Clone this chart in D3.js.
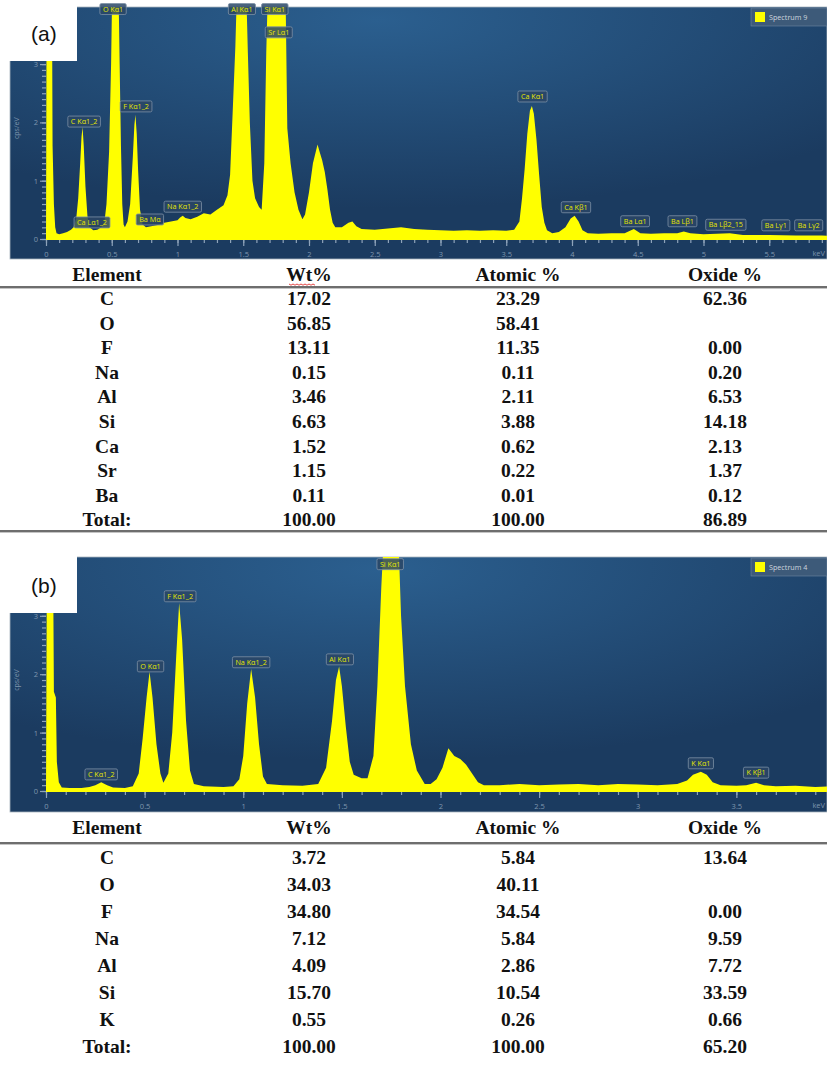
<!DOCTYPE html>
<html>
<head>
<meta charset="utf-8">
<script src="https://cdn.jsdelivr.net/npm/d3@7"></script>
<style>
  body { margin: 0; background: #fff; }
  svg { display: block; }
</style>
</head>
<body>
<div class="container"></div>
<script>
// ---- spectrum (a): [keV, cps/eV]
var specA = [
  [0,0],[0.005,4.5],[0.045,4.5],[0.05,1.6],[0.06,0.6],[0.07,0.2],[0.08,0.1],[0.1,0.08],[0.13,0.1],[0.16,0.12],
  [0.19,0.16],[0.21,0.2],[0.23,0.35],[0.245,0.7],[0.26,1.3],[0.27,1.75],[0.278,1.92],[0.287,1.6],[0.3,0.9],[0.315,0.4],
  [0.33,0.2],[0.36,0.15],[0.39,0.16],[0.42,0.2],[0.445,0.3],[0.46,0.6],[0.48,1.5],[0.495,3],[0.505,4.5],[0.55,4.5],
  [0.56,3],[0.57,1.6],[0.58,0.6],[0.59,0.25],[0.6,0.2],[0.62,0.3],[0.64,0.6],[0.66,1.4],[0.672,1.95],[0.68,2.13],
  [0.69,1.8],[0.70,1.2],[0.715,0.5],[0.735,0.25],[0.76,0.2],[0.8,0.22],[0.85,0.24],[0.9,0.28],[0.95,0.3],[1.0,0.32],
  [1.02,0.37],[1.04,0.4],[1.06,0.36],[1.1,0.34],[1.15,0.38],[1.2,0.44],[1.25,0.42],[1.3,0.5],[1.35,0.58],[1.38,0.75],
  [1.4,1.1],[1.42,2.2],[1.44,3.3],[1.455,4.5],[1.52,4.5],[1.535,3.2],[1.55,2.0],[1.57,1.0],[1.59,0.7],[1.62,0.55],
  [1.64,0.5],[1.66,1.3],[1.675,3.2],[1.69,4.5],[1.82,4.5],[1.835,1.9],[1.86,1.3],[1.89,0.8],[1.92,0.5],[1.95,0.34],
  [1.97,0.42],[2.0,0.8],[2.03,1.3],[2.065,1.62],[2.08,1.5],[2.1,1.35],[2.12,1.15],[2.14,0.85],[2.16,0.5],[2.18,0.28],
  [2.2,0.2],[2.25,0.2],[2.3,0.28],[2.33,0.3],[2.36,0.22],[2.4,0.17],[2.5,0.16],[2.6,0.18],[2.7,0.2],[2.8,0.17],
  [2.9,0.16],[3.0,0.15],[3.1,0.14],[3.2,0.15],[3.3,0.14],[3.4,0.15],[3.5,0.14],[3.56,0.16],[3.6,0.3],[3.62,0.7],
  [3.64,1.2],[3.66,1.8],[3.68,2.2],[3.695,2.28],[3.71,2.15],[3.73,1.7],[3.75,1.1],[3.77,0.55],[3.79,0.28],[3.81,0.15],
  [3.85,0.1],[3.9,0.12],[3.95,0.2],[3.99,0.35],[4.02,0.4],[4.05,0.3],[4.08,0.15],[4.12,0.1],[4.2,0.09],[4.3,0.1],
  [4.4,0.1],[4.47,0.17],[4.52,0.1],[4.6,0.09],[4.7,0.1],[4.8,0.1],[4.85,0.13],[4.9,0.1],[5.0,0.08],[5.1,0.09],
  [5.2,0.1],[5.3,0.07],[5.5,0.07],[5.7,0.06],[5.9,0.06],[6.0,0.05]
];
// ---- spectrum (b)
var specB = [
  [0,0],[0.005,4.5],[0.035,4.5],[0.04,1.7],[0.05,1.6],[0.055,0.5],[0.065,0.15],[0.08,0.06],[0.12,0.05],[0.18,0.05],
  [0.22,0.07],[0.25,0.1],[0.28,0.15],[0.31,0.1],[0.34,0.06],[0.4,0.05],[0.44,0.08],[0.47,0.3],[0.49,0.9],[0.51,1.6],
  [0.525,2.04],[0.54,1.6],[0.56,0.8],[0.58,0.3],[0.595,0.14],[0.62,0.3],[0.64,1.0],[0.66,2.3],[0.675,3.22],[0.69,2.6],
  [0.71,1.2],[0.73,0.35],[0.75,0.12],[0.8,0.08],[0.9,0.07],[0.95,0.08],[0.98,0.2],[1.0,0.6],[1.02,1.5],[1.04,2.09],
  [1.06,1.6],[1.08,0.8],[1.1,0.25],[1.12,0.12],[1.2,0.1],[1.3,0.09],[1.38,0.12],[1.42,0.4],[1.45,1.2],[1.47,1.9],
  [1.486,2.13],[1.5,1.8],[1.52,1.1],[1.54,0.5],[1.56,0.28],[1.6,0.22],[1.63,0.22],[1.66,0.6],[1.68,1.8],[1.7,3.5],
  [1.715,4.5],[1.785,4.5],[1.8,3.0],[1.82,1.8],[1.85,0.8],[1.88,0.35],[1.92,0.12],[1.95,0.12],[1.98,0.2],[2.01,0.4],
  [2.04,0.73],[2.07,0.6],[2.1,0.55],[2.13,0.45],[2.16,0.3],[2.19,0.15],[2.22,0.1],[2.3,0.1],[2.4,0.12],[2.5,0.1],
  [2.6,0.11],[2.7,0.12],[2.8,0.1],[2.9,0.12],[3.0,0.11],[3.1,0.1],[3.2,0.12],[3.25,0.18],[3.28,0.28],[3.32,0.33],
  [3.35,0.28],[3.38,0.15],[3.42,0.1],[3.5,0.09],[3.55,0.1],[3.6,0.14],[3.64,0.1],[3.7,0.08],[3.8,0.09],[3.9,0.07],[4.0,0.08]
];

// peak labels: name, keV of box centre, cps level of box bottom
var labelsA = ["C K\u03b11_2","Ca L\u03b11_2","O K\u03b11","F K\u03b11_2","Ba M\u03b1","Na K\u03b11_2","Al K\u03b11","Si K\u03b11","Sr L\u03b11","Ca K\u03b11","Ca K\u03b21","Ba L\u03b11","Ba L\u03b21","Ba L\u03b22_15","Ba L\u03b31","Ba L\u03b32"];
var labelsAkeV = [0.29,0.35,0.51,0.685,0.79,1.04,1.49,1.74,1.77,3.7,4.03,4.48,4.84,5.17,5.55,5.8];
var labelsAcps = [1.92,0.19,3.85,2.18,0.24,0.46,3.85,3.85,3.45,2.35,0.45,0.21,0.21,0.15,0.14,0.14];
var labelsB = ["C K\u03b11_2","O K\u03b11","F K\u03b11_2","Na K\u03b11_2","Al K\u03b11","Si K\u03b11","K K\u03b11","K K\u03b21"];
var labelsBkeV = [0.28,0.53,0.68,1.04,1.49,1.745,3.32,3.6];
var labelsBcps = [0.19,2.04,3.24,2.11,2.16,3.79,0.38,0.22];

// tables
var tableHeader = ["Element","Wt%","Atomic %","Oxide %"];
var elementsA = ["C","O","F","Na","Al","Si","Ca","Sr","Ba","Total:"];
var wtA = [17.02,56.85,13.11,0.15,3.46,6.63,1.52,1.15,0.11,100.00];
var atomicA = [23.29,58.41,11.35,0.11,2.11,3.88,0.62,0.22,0.01,100.00];
var oxideA = [62.36,null,0.00,0.20,6.53,14.18,2.13,1.37,0.12,86.89];
var elementsB = ["C","O","F","Na","Al","Si","K","Total:"];
var wtB = [3.72,34.03,34.80,7.12,4.09,15.70,0.55,100.00];
var atomicB = [5.84,40.11,34.54,5.84,2.86,10.54,0.26,100.00];
var oxideB = [13.64,null,0.00,9.59,7.72,33.59,0.66,65.20];

var width = 827, height = 1085;
var svg = d3.select(".container").append("svg")
  .attr("width", width).attr("height", height);

var defs = svg.append("defs");
var grad = defs.append("radialGradient").attr("id", "bg")
  .attr("cx", "45%").attr("cy", "5%").attr("r", "75%");
grad.append("stop").attr("offset", "0%").attr("stop-color", "#2b5f8f");
grad.append("stop").attr("offset", "100%").attr("stop-color", "#1b3b60");

var fmt = d3.format(".2f");

function drawSpectrum(opt, idx) {
  var g = svg.append("g");
  // dark panel
  g.append("rect")
    .attr("x", 10).attr("y", opt.top)
    .attr("width", width - 10).attr("height", opt.bottom - opt.top)
    .attr("fill", "url(#bg)")
    .attr("stroke", "#a9b4bf").attr("stroke-width", 0.8);

  var x = d3.scaleLinear().domain([0, opt.keVmax]).range([46, 835]);
  var y = d3.scaleLinear().domain([0, 4]).range([opt.base, opt.base - 4 * opt.unit]);

  defs.append("clipPath").attr("id", "clip" + idx)
    .append("rect").attr("x", 46).attr("y", opt.top)
    .attr("width", width - 46).attr("height", opt.base - opt.top + 1);

  var area = d3.area()
    .x(function (d) { return x(d[0]); })
    .y0(opt.base + 1)
    .y1(function (d) { return y(d[1]); });

  g.append("path")
    .datum(opt.spectrum)
    .attr("clip-path", "url(#clip" + idx + ")")
    .attr("fill", "#ffff00")
    .attr("d", area);

  // x axis: major every 0.5, minor every 0.1 (last major sits past the edge)
  var xMajor = d3.range(0, opt.keVmax - 0.01, 0.5);
  var xMinor = d3.range(0, opt.keVmax - 0.01, 0.1);
  var xa = g.append("g").attr("transform", "translate(0," + (opt.base + 1) + ")");
  xa.call(d3.axisBottom(x).tickValues(xMinor).tickSize(3).tickFormat(""));
  var xb = g.append("g").attr("transform", "translate(0," + (opt.base + 1) + ")");
  xb.call(d3.axisBottom(x).tickValues(xMajor).tickSize(6).tickPadding(6)
    .tickFormat(function (d) { return d3.format("~g")(d); }));
  [xa, xb].forEach(function (a) {
    a.select(".domain").remove();
    a.selectAll("line").attr("stroke", "#8ea3ba").attr("stroke-width", 1.2);
    a.selectAll("text").attr("fill", "#7f96ae").attr("font-size", 7.5)
      .attr("font-family", "Open Sans, sans-serif");
  });
  g.append("text").attr("x", 825).attr("y", opt.base + 17)
    .attr("text-anchor", "end")
    .attr("fill", "#7f96ae").attr("font-size", 7.5)
    .attr("font-family", "Open Sans, sans-serif").text("keV");

  // y axis
  var ya = g.append("g").attr("transform", "translate(46,0)");
  ya.call(d3.axisLeft(y).tickValues(d3.range(0, 3.95, 0.1)).tickSize(4).tickFormat(""));
  var yb = g.append("g").attr("transform", "translate(46,0)");
  yb.call(d3.axisLeft(y).tickValues([0, 1, 2, 3]).tickSize(6).tickPadding(2).tickFormat(d3.format("d")));
  [ya, yb].forEach(function (a) {
    a.select(".domain").remove();
    a.selectAll("line").attr("stroke", "#8ea3ba").attr("stroke-width", 1.2);
    a.selectAll("text").attr("fill", "#7f96ae").attr("font-size", 7.5)
      .attr("font-family", "Open Sans, sans-serif");
  });
  g.append("text")
    .attr("transform", "translate(19," + y(1.9) + ") rotate(-90)")
    .attr("text-anchor", "middle")
    .attr("fill", "#7f96ae").attr("font-size", 7)
    .attr("font-family", "Open Sans, sans-serif").text("cps/eV");

  // peak labels
  var lab = g.selectAll(".lab")
    .data(opt.labels.map(function (n, i) { return [n, opt.labelKeV[i], opt.labelCps[i]]; }))
    .enter().append("g").attr("class", "lab");
  lab.each(function (d) {
    var gg = d3.select(this);
    var t = gg.append("text")
      .attr("x", x(d[1])).attr("y", y(d[2]) - 3)
      .attr("text-anchor", "middle")
      .attr("fill", "#e6e600").attr("font-size", 7.2)
      .attr("font-family", "Open Sans, sans-serif")
      .text(d[0]);
    var w = t.node().getComputedTextLength() + 6;
    gg.insert("rect", "text")
      .attr("x", x(d[1]) - w / 2).attr("y", y(d[2]) - 11)
      .attr("width", w).attr("height", 11).attr("rx", 1.5)
      .attr("fill", "#2a4766").attr("fill-opacity", 0.85)
      .attr("stroke", "#7d91a6").attr("stroke-width", 0.8);
  });

  // legend
  var lg = g.append("g");
  lg.append("rect").attr("x", 751).attr("y", opt.top + 1)
    .attr("width", width - 751).attr("height", 18)
    .attr("fill", "#3d5a79").attr("stroke", "#6f86a0").attr("stroke-width", 0.6);
  lg.append("rect").attr("x", 755).attr("y", opt.top + 5)
    .attr("width", 10).attr("height", 10).attr("fill", "#ffff00");
  lg.append("text").attr("x", 769).attr("y", opt.top + 13)
    .attr("fill", "#cdd5de").attr("font-size", 7.2)
    .attr("font-family", "Open Sans, sans-serif").text(opt.legend);

  // panel tag
  svg.append("rect").attr("x", 0).attr("y", 0 + (idx ? opt.top - 2 : 0))
    .attr("width", 77).attr("height", opt.tagBottom - (idx ? opt.top - 2 : 0))
    .attr("fill", "#fff");
  svg.append("text").attr("x", 31).attr("y", opt.tagY)
    .attr("font-family", "Liberation Sans, Arial, sans-serif")
    .attr("font-size", 21).attr("fill", "#111").text(opt.tag);
}

function drawTable(opt) {
  var g = svg.append("g")
    .attr("font-family", "Liberation Serif, Times New Roman, serif")
    .attr("font-weight", "bold").attr("font-size", 19.5).attr("fill", "#111")
    .attr("text-anchor", "middle");
  var colX = [107, 309, 518, 725];
  g.selectAll(".hd").data(tableHeader).enter().append("text")
    .attr("x", function (d, i) { return colX[i]; })
    .attr("y", opt.headY).text(function (d) { return d; });

  g.append("rect").attr("x", 0).attr("y", opt.lineY).attr("width", width).attr("height", 2)
    .attr("fill", "#6e6e6e");
  g.append("rect").attr("x", 0).attr("y", opt.lineY + 2).attr("width", width).attr("height", 1)
    .attr("fill", "#c4c4c4");

  var rows = opt.elements.map(function (e, i) {
    return [e, opt.wt[i], opt.atomic[i], opt.oxide[i]];
  });
  var r = g.selectAll(".row").data(rows).enter().append("g")
    .attr("transform", function (d, i) { return "translate(0," + (opt.rowY + i * opt.rowStep) + ")"; });
  r.selectAll("text").data(function (d) { return d; }).enter().append("text")
    .attr("x", function (d, i) { return colX[i]; })
    .text(function (d, i) { return i === 0 ? d : (d === null ? "" : fmt(d)); });

  if (opt.bottomLine) {
    g.append("rect").attr("x", 0).attr("y", opt.bottomLine).attr("width", width).attr("height", 2)
      .attr("fill", "#6e6e6e");
    g.append("rect").attr("x", 0).attr("y", opt.bottomLine + 2).attr("width", width).attr("height", 1)
      .attr("fill", "#c4c4c4");
  }
  if (opt.squiggle) {
    var pts = d3.range(0, 14).map(function (i) { return [289 + i * 2, opt.headY + 3 + (i % 2 ? 1.2 : 0)]; });
    svg.append("path").attr("d", d3.line()(pts))
      .attr("fill", "none").attr("stroke", "#e03030").attr("stroke-width", 0.9);
  }
}

drawSpectrum({
  top: 7, bottom: 259, base: 239, unit: 58.3, keVmax: 6,
  spectrum: specA, labels: labelsA, labelKeV: labelsAkeV, labelCps: labelsAcps,
  legend: "Spectrum 9", tag: "(a)", tagBottom: 61, tagY: 41
}, 0);
drawTable({
  headY: 281, lineY: 286, rowY: 305, rowStep: 24.6, bottomLine: 530,
  elements: elementsA, wt: wtA, atomic: atomicA, oxide: oxideA, squiggle: true
});

drawSpectrum({
  top: 557, bottom: 812, base: 791, unit: 58.4, keVmax: 4,
  spectrum: specB, labels: labelsB, labelKeV: labelsBkeV, labelCps: labelsBcps,
  legend: "Spectrum 4", tag: "(b)", tagBottom: 613, tagY: 593
}, 1);
drawTable({
  headY: 834, lineY: 842, rowY: 863.5, rowStep: 27.1, bottomLine: null,
  elements: elementsB, wt: wtB, atomic: atomicB, oxide: oxideB, squiggle: false
});
</script>
</body>
</html>
